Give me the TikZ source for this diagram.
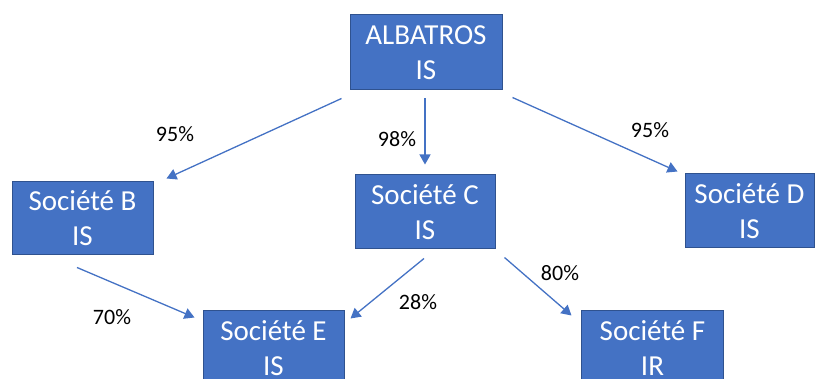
\documentclass[tikz,border=0pt]{standalone}
\usepackage{fontspec}
\setmainfont{Carlito}
\usepackage{xcolor}
\usepackage{tikz}
\usetikzlibrary{arrows.meta}
\definecolor{boxblue}{HTML}{4472C4}
\definecolor{boxedge}{HTML}{2F528F}

\begin{document}
\begin{tikzpicture}[x=1pt,y=-1pt,
        company/.style={draw=boxedge,line width=1pt,fill=boxblue,text=white,align=center,inner sep=0pt,font=\fontsize{29}{35}\selectfont},
        share/.style={->,>={Triangle[length=10pt,width=11pt]},draw=boxblue,line width=1.3pt},
        pct/.style={font=\fontsize{22}{26}\selectfont}]

        \useasboundingbox (0,0) rectangle (815,379);
        \clip (0,0) rectangle (815,379);

        %companies
        \node[company,minimum width=152pt,minimum height=75pt] (A) at (426,52.5) {ALBATROS\\IS};
        \node[company,minimum width=141pt,minimum height=73pt] (B) at (82.5,218.5) {Société B\\IS};
        \node[company,minimum width=140pt,minimum height=74pt] (C) at (425,212) {Société C\\IS};
        \node[company,minimum width=129pt,minimum height=74pt] (D) at (749.5,211) {Société D\\IS};
        \node[company,minimum width=141pt,minimum height=74pt] (E) at (273.5,348) {Société E\\IS};
        \node[company,minimum width=142pt,minimum height=74pt] (F) at (652.5,348) {Société F\\IR};

        %holdings
        \draw[share] ([shift={(-8,8)}]A.south west) -- ([shift={(13,-3)}]B.north east);
        \draw[share] ([shift={(-1,8)}]A.south) -- ([shift={(0,-10)}]C.north);
        \draw[share] ([shift={(10,7)}]A.south east) -- ([shift={(-7,-2)}]D.north west);
        \draw[share] ([shift={(-5.5,12)}]B.south) -- ([shift={(-8,7)}]E.north west);
        \draw[share] ([shift={(-1,9)}]C.south) -- ([shift={(6,8)}]E.north east);
        \draw[share] ([shift={(9,8)}]C.south east) -- ([shift={(-9.5,5)}]F.north west);

        %percentages
        \node[pct] (pB) at (175,134) {95\%};
        \node[pct] (pC) at (397,139) {98\%};
        \node[pct] (pD) at (650,130) {95\%};
        \node[pct] (pE1) at (112,317) {70\%};
        \node[pct] (pE2) at (418,302) {28\%};
        \node[pct] (pF) at (560,273) {80\%};
        \end{tikzpicture}
\end{document}
